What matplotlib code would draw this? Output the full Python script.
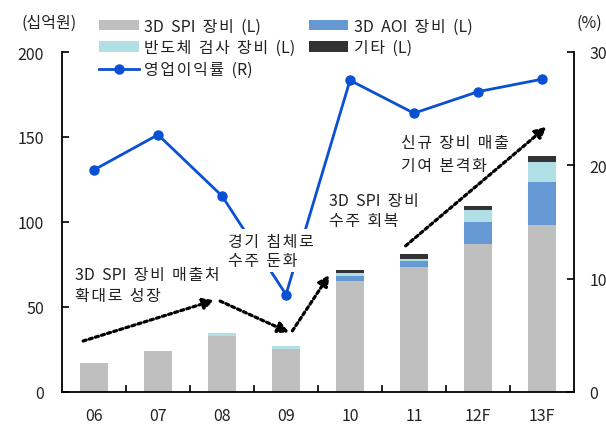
import matplotlib
matplotlib.use("Agg")
import matplotlib.pyplot as plt
import numpy as np

plt.rcParams["font.family"] = ["Noto Sans CJK KR", "DejaVu Sans"]

# data
years = ["06", "07", "08", "09", "10", "11", "12F", "13F"]
spi = [17, 24, 33, 25.5, 65.5, 73.5, 87, 98.5]          # 3D SPI 장비 (L)
aoi = [0, 0, 0, 0, 3, 3.3, 13, 25]                       # 3D AOI 장비 (L)
insp = [0, 0, 2, 1.7, 1.5, 1.6, 7, 12]                   # 반도체 검사 장비 (L)
etc = [0, 0, 0, 0, 1.5, 3, 2.5, 3.5]                     # 기타 (L)
margin = [19.6, 22.7, 17.3, 8.6, 27.5, 24.6, 26.5, 27.6]  # 영업이익률 (R)

C_SPI = "#bfbfbf"
C_AOI = "#6699d3"
C_INSP = "#b0e0e6"
C_ETC = "#333333"
C_LINE = "#0a50d2"
TXT = "#222222"
FS = 11.5


def spaced(s):
    # the reference font sets Hangul a little looser than Noto does
    out = ""
    for i, ch in enumerate(s):
        out += ch
        if i + 1 < len(s) and "\uac00" <= ch <= "\ud7a3" and "\uac00" <= s[i + 1] <= "\ud7a3":
            out += "\u200a"
    return out.replace(" ", "  ")


W, H = 606, 427
fig = plt.figure(figsize=(W / 100, H / 100), dpi=100)
ax = fig.add_axes([62 / W, (H - 393) / H, (574 - 62) / W, (393 - 53) / H])
ax2 = ax.twinx()

x = np.arange(len(years))
bw = 0.43
b1 = ax.bar(x, spi, bw, color=C_SPI, zorder=2)
b2 = ax.bar(x, aoi, bw, bottom=spi, color=C_AOI, zorder=2)
base = np.array(spi) + np.array(aoi)
b3 = ax.bar(x, insp, bw, bottom=base, color=C_INSP, zorder=2)
base = base + np.array(insp)
b4 = ax.bar(x, etc, bw, bottom=base, color=C_ETC, zorder=2)

ln, = ax2.plot(x, margin, color=C_LINE, lw=2, marker="o", ms=6.5, zorder=3)

ax.set_xlim(-0.5, 7.5)
ax.set_ylim(0, 200)
ax2.set_ylim(0, 30)

for a in (ax, ax2):
    a.spines["top"].set_visible(False)
    a.spines["left"].set_linewidth(1.3)
    a.spines["right"].set_linewidth(1.3)
    a.spines["bottom"].set_linewidth(1.3)
ax2.spines["left"].set_visible(False)
ax2.spines["bottom"].set_visible(False)
ax.spines["right"].set_visible(False)

ax.set_yticks([0, 50, 100, 150, 200])
ax.tick_params(axis="y", direction="in", length=5, width=1.2, pad=13,
               labelsize=FS, labelcolor=TXT)
ax2.set_yticks([0, 10, 20, 30])
ax2.tick_params(axis="y", direction="in", length=5, width=1.2, pad=11,
                labelsize=FS, labelcolor=TXT)

ax.set_xticks(np.arange(0.5, 7, 1))
ax.set_xticklabels([])
ax.tick_params(axis="x", which="major", direction="in", length=5, width=1.2)
ax.set_xticks(x, minor=True)
ax.set_xticklabels(years, minor=True)
ax.tick_params(axis="x", which="minor", length=0, pad=11,
               labelsize=FS, labelcolor=TXT)

# annotations (white box hides the line behind)
ax3 = fig.add_axes(ax.get_position(), sharex=ax, sharey=ax)
ax3.axis("off")
box = dict(facecolor="white", edgecolor="none", pad=2.5)
notes = [
    (-0.30, 69.4, "3D SPI 장비 매출처"),
    (-0.30, 56.5, "확대로 성장"),
    (2.09, 88.8, "경기 침체로"),
    (2.09, 77.6, "수주 둔화"),
    (3.67, 112.4, "3D SPI 장비"),
    (3.67, 100.6, "수주 회복"),
    (4.80, 147, "신규 장비 매출"),
    (4.80, 133, "기여 본격화"),
]
for tx, ty, s in notes:
    ax3.text(tx, ty, spaced(s), ha="left", va="center", fontsize=FS,
             color=TXT, bbox=box, zorder=5)

arrows = [
    ((-0.17, 30), (1.88, 54)),
    ((1.97, 53.5), (3.05, 35)),
    ((3.1, 36), (3.68, 69)),
    ((4.87, 86), (7.07, 156)),
]
for (sx, sy), (ex, ey) in arrows:
    ax3.annotate("", xy=(ex, ey), xytext=(sx, sy),
                 arrowprops=dict(arrowstyle="-|>", color="black", lw=2.3,
                                 linestyle=(0, (1, 1)), mutation_scale=16,
                                 shrinkA=0, shrinkB=0),
                 zorder=6)

fig.text(49 / W, 1 - 23 / H, "(십억원)", ha="center", va="center",
         fontsize=FS, color=TXT)
fig.text(589 / W, 1 - 23 / H, "(%)", ha="center", va="center",
         fontsize=FS, color=TXT)

handles = [b1, b3, ln, b2, b4]
labels = ["3D SPI 장비 (L)", "반도체 검사 장비 (L)", "영업이익률 (R)",
          "3D AOI 장비 (L)", "기타 (L)"]
fig.legend(handles, [spaced(s) for s in labels], ncol=2, loc="upper left",
           bbox_to_anchor=(93 / W, 1 - 12 / H), frameon=False,
           fontsize=FS, handlelength=2.45, handleheight=0.62,
           handletextpad=0.35, columnspacing=0.85, labelspacing=0.3,
           borderaxespad=0, labelcolor=TXT)

fig.savefig("out.png", dpi=100)
